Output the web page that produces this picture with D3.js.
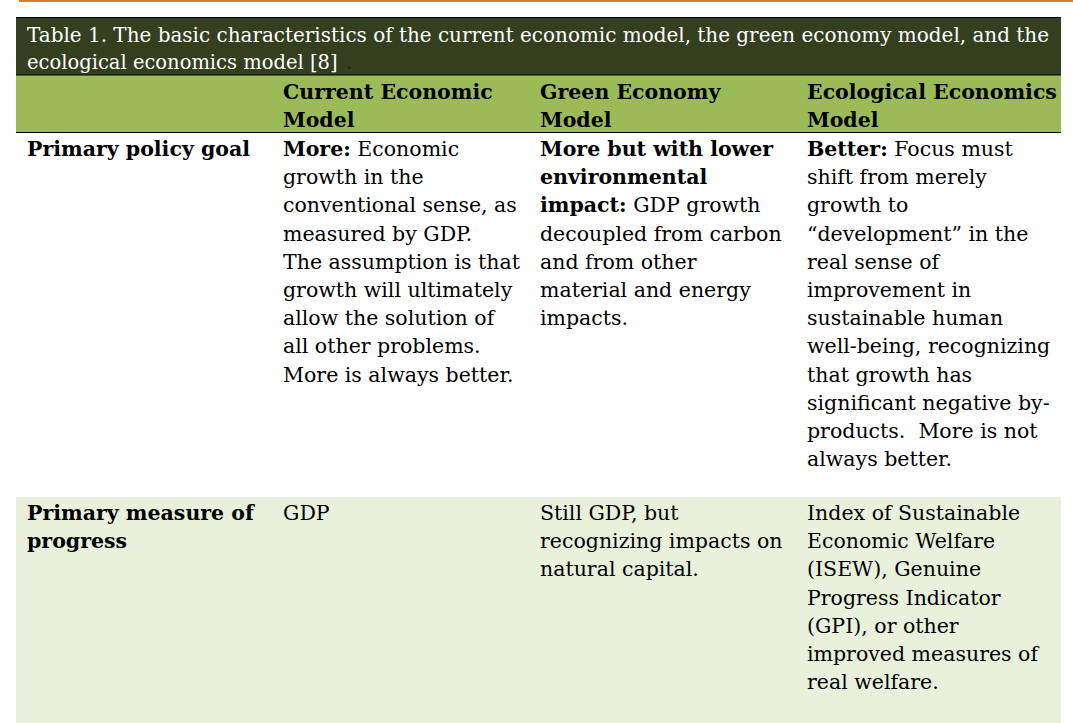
<!DOCTYPE html>
<html><head><meta charset="utf-8">
<script src="https://cdn.jsdelivr.net/npm/d3@7"></script>
<style>body{margin:0;background:#fff}svg{display:block}text{white-space:pre}</style>
</head><body><svg id="c" width="1073" height="723"></svg>
<script>
// table content; "**" marks bold runs
const title = ["Table 1. The basic characteristics of the current economic model, the green economy model, and the",
  "ecological economics model [8]"];
const columns = [[""], ["Current Economic", "Model"], ["Green Economy", "Model"], ["Ecological Economics", "Model"]];
const rowGoal = [
  ["**Primary policy goal"],
  ["**More:** Economic", "growth in the", "conventional sense, as", "measured by GDP.", "The assumption is that",
   "growth will ultimately", "allow the solution of", "all other problems.", "More is always better."],
  ["**More but with lower", "**environmental", "**impact:** GDP growth", "decoupled from carbon",
   "and from other", "material and energy", "impacts."],
  ["**Better:** Focus must", "shift from merely", "growth to", "\u201cdevelopment\u201d in the", "real sense of",
   "improvement in", "sustainable human", "well-being, recognizing", "that growth has",
   "significant negative by-", "products.  More is not", "always better."]
];
const rowMeasure = [
  ["**Primary measure of", "**progress"],
  ["GDP"],
  ["Still GDP, but", "recognizing impacts on", "natural capital."],
  ["Index of Sustainable", "Economic Welfare", "(ISEW), Genuine", "Progress Indicator",
   "(GPI), or other", "improved measures of", "real welfare."]
];
const rows = [rowGoal, rowMeasure];

const svg = d3.select("#c");
const font = "'DejaVu Serif', serif";
const fs = 20.5, lh = 28.2;
const colX = d3.scaleOrdinal().domain([0, 1, 2, 3]).range([27, 283, 540, 807]);

// orange rule at top
svg.append("rect").attr("x", 19).attr("y", 0).attr("width", 1054).attr("height", 2).attr("fill", "#e07b2a");
// title band
svg.append("rect").attr("x", 16).attr("y", 17).attr("width", 1045).attr("height", 58).attr("fill", "#333f1e");
svg.append("line").attr("x1", 16).attr("x2", 1061).attr("y1", 17.5).attr("y2", 17.5).attr("stroke", "#000");
// header band
svg.append("rect").attr("x", 16).attr("y", 75).attr("width", 1045).attr("height", 57).attr("fill", "#9bbb59");
svg.append("line").attr("x1", 16).attr("x2", 1061).attr("y1", 75).attr("y2", 75).attr("stroke", "#000");
svg.append("line").attr("x1", 16).attr("x2", 1061).attr("y1", 132.5).attr("y2", 132.5).attr("stroke", "#000");
// second row shading
svg.append("rect").attr("x", 16).attr("y", 497).attr("width", 1045).attr("height", 226).attr("fill", "#e9f0dc");

const tt = svg.append("g").attr("font-family", font).attr("font-size", 19.5).attr("fill", "#fff");
tt.selectAll("text").data(title).join("text")
  .attr("x", 27).attr("y", (d, i) => 42 + i * 27)
  .attr("textLength", (d, i) => i === 0 ? 1022 : null)
  .attr("lengthAdjust", "spacingAndGlyphs")
  .text(d => d);
// trailing period sits on a dark highlight in the reference
tt.append("text").attr("x", 346).attr("y", 69).attr("fill", "#1a1a1a").text(".");

const hd = svg.append("g").attr("font-family", font).attr("font-size", fs).attr("font-weight", "bold").attr("fill", "#000");
columns.forEach((lines, c) => {
  hd.selectAll(null).data(lines).join("text")
    .attr("x", colX(c)).attr("y", (d, i) => 99 + i * lh).text(d => d);
});

function drawLine(g, str, x, y) {
  const t = g.append("text").attr("x", x).attr("y", y);
  const parts = str.split("**");
  parts.forEach((p, i) => {
    if (!p) return;
    t.append("tspan").attr("font-weight", i % 2 === 1 ? "bold" : "normal").text(p);
  });
}

const rowTop = [156, 520];
const body = svg.append("g").attr("font-family", font).attr("font-size", fs).attr("fill", "#000");
rows.forEach((row, r) => {
  row.forEach((lines, c) => {
    lines.forEach((l, i) => drawLine(body, l, colX(c), rowTop[r] + i * lh));
  });
});
</script></body></html>
